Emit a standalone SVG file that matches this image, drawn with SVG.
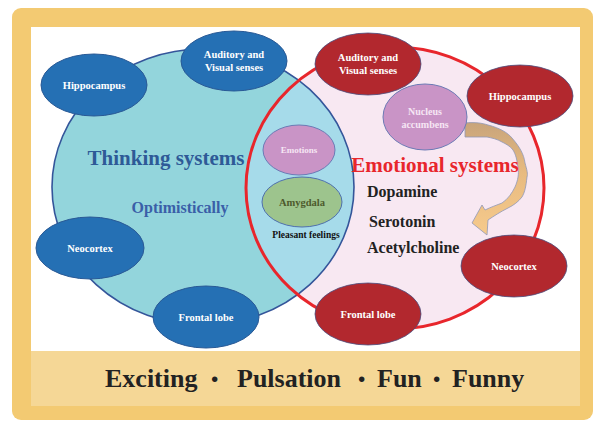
<svg xmlns="http://www.w3.org/2000/svg" width="595" height="421" viewBox="0 0 595 421">
  <style>
    text { font-family: "Liberation Serif", "Times New Roman", serif; font-weight: bold; text-anchor: middle; }
    .lbl { fill: #ffffff; font-size: 10.5px; }
    .lblp { fill: #f6e6f4; font-size: 10px; }
    .blue { fill: #2570b4; stroke: #2a5a96; stroke-width: 1; }
    .red { fill: #b2282e; stroke: #4a4f80; stroke-width: 0.8; }
    .pink { fill: #c994c6; stroke: #6c7ab5; stroke-width: 1; }
    .chem { fill: #222222; font-size: 16px; text-anchor: start; }
  </style>
  <defs>
    <clipPath id="thinkClip">
      <ellipse cx="203" cy="187" rx="151" ry="138"/>
    </clipPath>
    <linearGradient id="arrowGrad" x1="0" y1="0" x2="0" y2="1">
      <stop offset="0" stop-color="#c8a47b"/>
      <stop offset="0.45" stop-color="#e8bb80"/>
      <stop offset="1" stop-color="#f6ca8c"/>
    </linearGradient>
  </defs>

  <!-- frame and bottom band -->
  <rect x="12" y="8" width="581" height="412" rx="9" fill="#f3ca72"/>
  <rect x="31" y="27" width="549" height="324" fill="#ffffff"/>
  <rect x="31" y="351" width="549" height="55" fill="#f5d796"/>

  <!-- two overlapping systems -->
  <g id="thinking-area">
    <ellipse cx="203" cy="187" rx="151" ry="138" fill="#93d5dc"/>
  </g>
  <g id="emotional-area">
    <ellipse cx="395" cy="188" rx="149" ry="141" fill="#f8e8f2"/>
    <ellipse cx="395" cy="188" rx="149" ry="141" fill="#a6dbea" clip-path="url(#thinkClip)"/>
  </g>
  <ellipse cx="203" cy="187" rx="151" ry="138" fill="none" stroke="#34559a" stroke-width="1.6"/>
  <ellipse cx="395" cy="188" rx="149" ry="141" fill="none" stroke="#e8262c" stroke-width="3"/>

  <!-- curved arrow from nucleus accumbens -->
  <g id="connectors">
    <path d="M465,123 C475,122 482,123 488,125 C500,128 508,133 512,138 C519,146 524,154 525,163 C527,170 528,174 527,177 C526,186 525,192 522,197 C518,202 514,205 508,208 C500,212 494,216 488,220 L487,235 L472,223 L482,205 L485,210 C491,207 497,205 502,203 C508,199 512,193 515,187 C518,180 519,174 518,168 C517,160 516,155 513,150 C510,146 506,144 502,142 C497,139 492,138 487,137 L465,137 Z" fill="url(#arrowGrad)" stroke="#8f98b8" stroke-width="0.8"/>
  </g>

  <!-- thinking system nodes -->
  <g id="hippocampus-left">
    <ellipse class="blue" cx="94" cy="85" rx="53" ry="31"/>
    <text class="lbl" x="94" y="89">Hippocampus</text>
  </g>
  <g id="senses-left">
    <ellipse class="blue" cx="234" cy="61" rx="53" ry="30"/>
    <text class="lbl" x="234" y="58">Auditory and</text>
    <text class="lbl" x="234" y="71">Visual senses</text>
  </g>
  <g id="neocortex-left">
    <ellipse class="blue" cx="90" cy="248" rx="54" ry="31"/>
    <text class="lbl" x="90" y="252">Neocortex</text>
  </g>
  <g id="frontal-lobe-left">
    <ellipse class="blue" cx="206" cy="317" rx="53" ry="31"/>
    <text class="lbl" x="206" y="321">Frontal lobe</text>
  </g>

  <!-- emotional system nodes -->
  <g id="senses-right">
    <ellipse class="red" cx="368" cy="64" rx="53" ry="31"/>
    <text class="lbl" x="368" y="61">Auditory and</text>
    <text class="lbl" x="368" y="74">Visual senses</text>
  </g>
  <g id="hippocampus-right">
    <ellipse class="red" cx="520" cy="96" rx="53" ry="31"/>
    <text class="lbl" x="520" y="100">Hippocampus</text>
  </g>
  <g id="neocortex-right">
    <ellipse class="red" cx="514" cy="266" rx="53" ry="31"/>
    <text class="lbl" x="514" y="270">Neocortex</text>
  </g>
  <g id="frontal-lobe-right">
    <ellipse class="red" cx="368" cy="314" rx="53" ry="31"/>
    <text class="lbl" x="368" y="318">Frontal lobe</text>
  </g>
  <g id="nucleus-accumbens">
    <ellipse class="pink" cx="425" cy="117" rx="42" ry="33"/>
    <text class="lblp" x="425" y="115">Nucleus</text>
    <text class="lblp" x="425" y="128">accumbens</text>
  </g>

  <!-- shared region nodes -->
  <g id="emotions">
    <ellipse class="pink" cx="299" cy="150" rx="36" ry="25"/>
    <text class="lblp" x="299" y="153" style="font-size:9px">Emotions</text>
  </g>
  <g id="amygdala">
    <ellipse cx="302" cy="202" rx="40" ry="25" fill="#9dc48d" stroke="#4f70ad" stroke-width="1"/>
    <text x="302" y="206" style="font-size:10.5px; fill:#4d5a2c">Amygdala</text>
  </g>
  <text x="306" y="238" style="font-size:9.5px; fill:#111111">Pleasant feelings</text>

  <!-- system titles -->
  <text x="166" y="165" style="font-size:21px; fill:#2e5a97">Thinking systems</text>
  <text x="180" y="213" style="font-size:16px; fill:#3a5fa8">Optimistically</text>
  <text x="435" y="172" style="font-size:21px; fill:#e8262c">Emotional systems</text>
  <text class="chem" x="367" y="197">Dopamine</text>
  <text class="chem" x="369" y="227">Serotonin</text>
  <text class="chem" x="367" y="253">Acetylcholine</text>

  <!-- bottom slogan -->
  <text style="font-size:26px; fill:#222222; text-anchor:start" y="387"><tspan x="105">Exciting</tspan><tspan x="209" style="font-size:34px" dy="3">·</tspan><tspan x="237" dy="-3">Pulsation</tspan><tspan x="356" style="font-size:34px" dy="3">·</tspan><tspan x="377" dy="-3">Fun</tspan><tspan x="431" style="font-size:34px" dy="3">·</tspan><tspan x="452" dy="-3">Funny</tspan></text>
</svg>
